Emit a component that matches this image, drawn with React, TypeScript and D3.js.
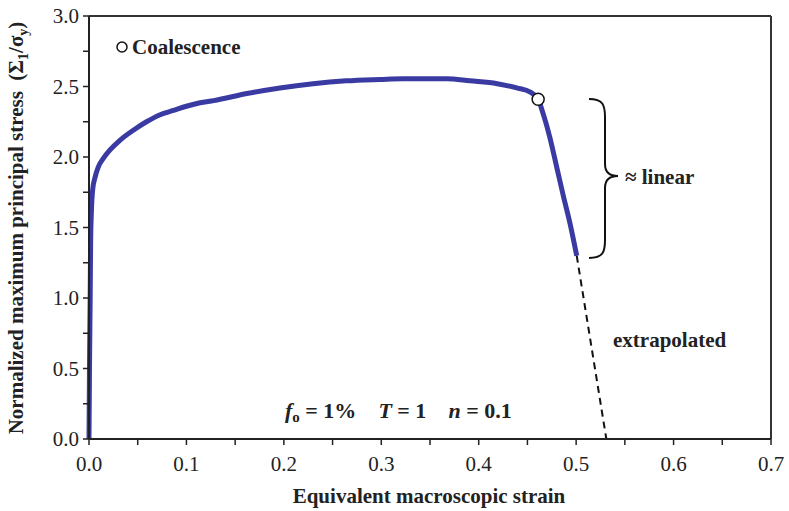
import React from "react";
import * as d3 from "d3";

const strain = [0.0, 0.0005, 0.0012, 0.0017, 0.0025, 0.0038, 0.006, 0.0096, 0.0147, 0.0216, 0.032, 0.0455, 0.059, 0.073, 0.0866, 0.1, 0.114, 0.128, 0.162, 0.196, 0.23, 0.264, 0.299, 0.322, 0.367, 0.391, 0.419, 0.439, 0.453, 0.461, 0.466, 0.473, 0.48, 0.487, 0.494, 0.5006];
const stress = [0.0, 0.5, 1.0, 1.41, 1.62, 1.77, 1.85, 1.93, 1.99, 2.05, 2.12, 2.19, 2.25, 2.3, 2.33, 2.36, 2.385, 2.4, 2.45, 2.49, 2.52, 2.54, 2.55, 2.555, 2.555, 2.54, 2.52, 2.49, 2.46, 2.41, 2.31, 2.14, 1.93, 1.72, 1.52, 1.3];
const extrapStrain = [0.5006, 0.531];
const extrapStress = [1.3, 0.0];
const coalescence = { strain: 0.461, stress: 2.41 };
const xTicks = [0, 0.1, 0.2, 0.3, 0.4, 0.5, 0.6, 0.7];
const xMinor = [0.05, 0.15, 0.25, 0.35, 0.45, 0.55, 0.65];
const yTicks = [0, 0.5, 1.0, 1.5, 2.0, 2.5, 3.0];
const yMinor = [0.25, 0.75, 1.25, 1.75, 2.25, 2.75];

const L = 89, R = 771, T = 16, B = 439;
const FONT = "'Liberation Serif', 'DejaVu Serif', serif";

export default function App() {
  const x = d3.scaleLinear().domain([0, 0.7]).range([L, R]);
  const y = d3.scaleLinear().domain([0, 3]).range([B, T]);
  const pts: [number, number][] = strain.map((s, i) => [s, stress[i]]);
  const line = d3.line<[number, number]>().x(d => x(d[0])).y(d => y(d[1])).curve(d3.curveMonotoneX);
  const lineLin = d3.line<[number, number]>().x(d => x(d[0])).y(d => y(d[1]));
  const ext: [number, number][] = extrapStrain.map((s, i) => [s, extrapStress[i]]);
  const cx = x(coalescence.strain), cy = y(coalescence.stress);
  const bx = 589, bv = 605, btop = 99, bbot = 258, bmid = 176;
  const brace = `M${bx},${btop} C${bv - 2},${btop} ${bv},${btop + 6} ${bv},${btop + 18} L${bv},${bmid - 12} C${bv},${bmid - 3} ${bv + 6},${bmid} ${bv + 13},${bmid} C${bv + 6},${bmid} ${bv},${bmid + 3} ${bv},${bmid + 12} L${bv},${bbot - 18} C${bv},${bbot - 6} ${bv - 2},${bbot} ${bx},${bbot}`;
  return (
    <svg width={789} height={511} style={{ position: "absolute", left: 0, top: 0, background: "#fff" }} fontFamily={FONT}>
      {/* frame */}
      <line x1={L} x2={R} y1={T} y2={T} stroke="#333" strokeWidth={2} />
      <line x1={R} x2={R} y1={T} y2={B} stroke="#333" strokeWidth={2} />
      {/* curve */}
      <path d={line(pts) || ""} fill="none" stroke="#3a3aa3" strokeWidth={5} strokeLinejoin="round" />
      <path d={lineLin(ext) || ""} fill="none" stroke="#111" strokeWidth={2} strokeDasharray="7,5" />
      {/* axes */}
      <line x1={L} x2={R} y1={B} y2={B} stroke="#222" strokeWidth={2} />
      <line x1={L} x2={L} y1={T} y2={B} stroke="#222" strokeWidth={2} />
      {xTicks.concat(xMinor).map((t, i) => (
        <line key={"xt" + i} x1={x(t)} x2={x(t)} y1={B} y2={B + 6} stroke="#222" strokeWidth={1.5} />
      ))}
      {yTicks.concat(yMinor).map((t, i) => (
        <line key={"yt" + i} x1={L - 6} x2={L} y1={y(t)} y2={y(t)} stroke="#222" strokeWidth={1.5} />
      ))}
      {xTicks.map((t, i) => (
        <text key={"xl" + i} x={x(t)} y={471} textAnchor="middle" fontSize={21} fill="#222">{t.toFixed(1)}</text>
      ))}
      {yTicks.map((t, i) => (
        <text key={"yl" + i} x={79} y={y(t) + 7} textAnchor="end" fontSize={21} fill="#222">{t.toFixed(1)}</text>
      ))}
      <text x={429} y={503} textAnchor="middle" fontSize={21} fontWeight="bold" fill="#222">Equivalent macroscopic strain</text>
      <text transform={`translate(23,${228}) rotate(-90)`} textAnchor="middle" fontSize={21} fontWeight="bold" fill="#222">
        Normalized maximum principal stress{"\u00a0\u00a0"}(Σ<tspan fontSize={14} dy={5}>1</tspan><tspan dy={-5}>/σ</tspan><tspan fontSize={14} dy={5}>y</tspan><tspan dy={-5}>)</tspan>
      </text>
      {/* coalescence marker */}
      <circle cx={cx} cy={cy} r={6} fill="#fff" stroke="#111" strokeWidth={1.5} />
      <circle cx={122} cy={47} r={5} fill="#fff" stroke="#111" strokeWidth={1.5} />
      <text x={132} y={54} fontSize={21} fontWeight="bold" fill="#222">Coalescence</text>
      {/* brace */}
      <path d={brace} fill="none" stroke="#111" strokeWidth={2} />
      <text x={625} y={184} fontSize={21} fontWeight="bold" fill="#222">≈ linear</text>
      <text x={613} y={347} fontSize={21} fontWeight="bold" fill="#222">extrapolated</text>
      <text x={285} y={418} fontSize={22} fontWeight="bold" fill="#222">
        <tspan fontStyle="italic">f</tspan><tspan fontSize={15} dy={4}>o</tspan><tspan dy={-4}> = 1%{"\u00a0\u00a0\u00a0\u00a0"}</tspan><tspan fontStyle="italic">T</tspan><tspan> = 1{"\u00a0\u00a0\u00a0\u00a0"}</tspan><tspan fontStyle="italic">n</tspan><tspan> = 0.1</tspan>
      </text>
    </svg>
  );
}
